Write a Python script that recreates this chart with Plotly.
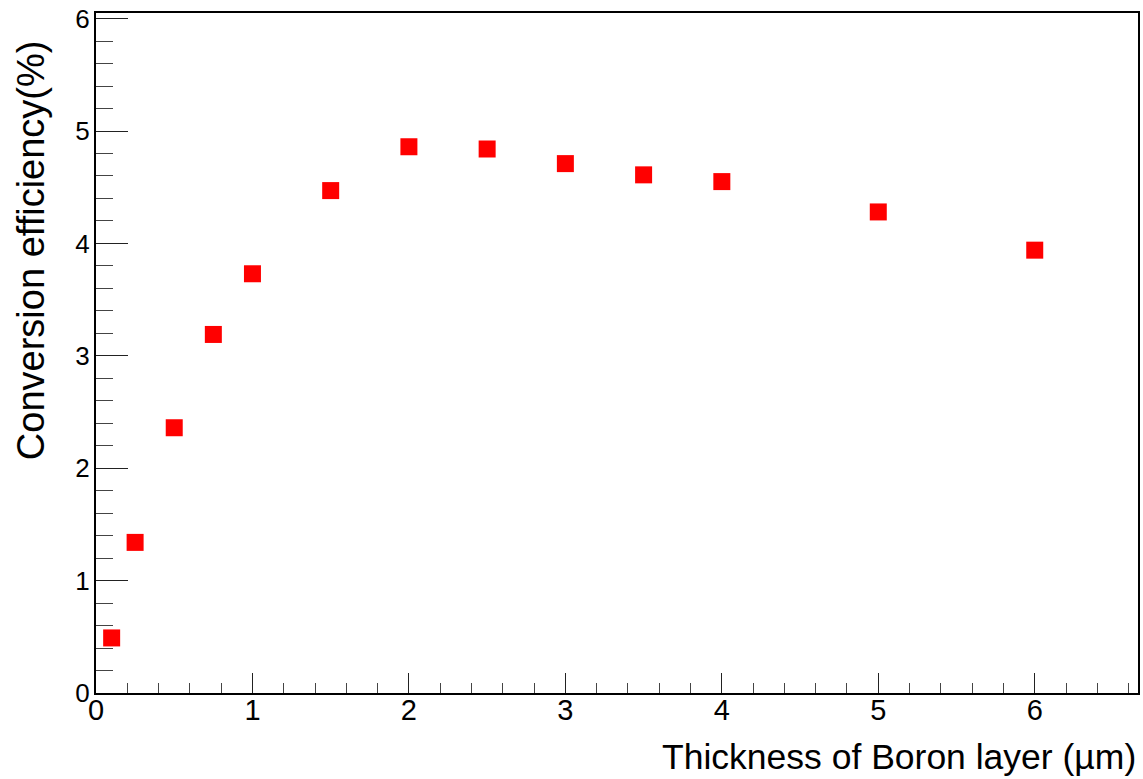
import plotly.graph_objects as go

thickness_um = [0.1, 0.25, 0.5, 0.75, 1.0, 1.5, 2.0, 2.5, 3.0, 3.5, 4.0, 5.0, 6.0]
efficiency_pct = [0.49, 1.34, 2.36, 3.19, 3.73, 4.47, 4.86, 4.84, 4.71, 4.61, 4.55, 4.28, 3.94]

x_title = "Thickness of Boron layer (µm)"
y_title = "Conversion efficiency(%)"

FONT = "Liberation Sans, Arial, Helvetica, sans-serif"

fig = go.Figure()
fig.add_trace(go.Scatter(
    x=thickness_um, y=efficiency_pct, mode="markers",
    marker=dict(symbol="square", size=17, color="#ff0000", line=dict(width=0)),
    showlegend=False,
))

fig.update_layout(
    width=1143, height=779,
    margin=dict(l=96, r=5, t=13, b=86),
    paper_bgcolor="white", plot_bgcolor="white",
    font=dict(family=FONT, color="black"),
)
fig.update_xaxes(
    range=[0, 6.66], showgrid=False, zeroline=False, automargin=False,
    showline=True, mirror=True, linecolor="black", linewidth=2,
    ticks="inside", ticklen=20, tickwidth=1, tickcolor="#222",
    tick0=0, dtick=1,
    minor=dict(ticks="inside", ticklen=10, dtick=0.2, tick0=0, tickcolor="#444", tickwidth=1, showgrid=False),
    tickfont=dict(size=29, family=FONT),
    ticklabelstandoff=-10,
    ticklabeloverflow="allow",
)
fig.update_yaxes(
    range=[0, 6.05], showgrid=False, zeroline=False, automargin=False,
    showline=True, mirror=True, linecolor="black", linewidth=2,
    ticks="inside", ticklen=32, tickwidth=1, tickcolor="#222",
    tick0=0, dtick=1,
    minor=dict(ticks="inside", ticklen=17, dtick=0.2, tick0=0, tickcolor="#444", tickwidth=1, showgrid=False),
    tickfont=dict(size=26, family=FONT),
    ticklabelstandoff=-1,
    ticklabeloverflow="allow",
)
fig.add_annotation(
    text=x_title, xref="paper", yref="paper", x=1.0, y=-0.094,
    xanchor="right", yanchor="middle", showarrow=False,
    font=dict(size=35.5, family=FONT, color="black"),
)
fig.add_annotation(
    text=y_title, xref="paper", yref="paper", x=-0.0624, y=0.963,
    xanchor="center", yanchor="top", textangle=-90, showarrow=False,
    font=dict(size=38, family=FONT, color="black"),
)

fig.write_html(
    "out.html",
    config={"displayModeBar": False},
    post_script="document.body.style.margin='0';document.body.style.overflow='hidden';",
)
